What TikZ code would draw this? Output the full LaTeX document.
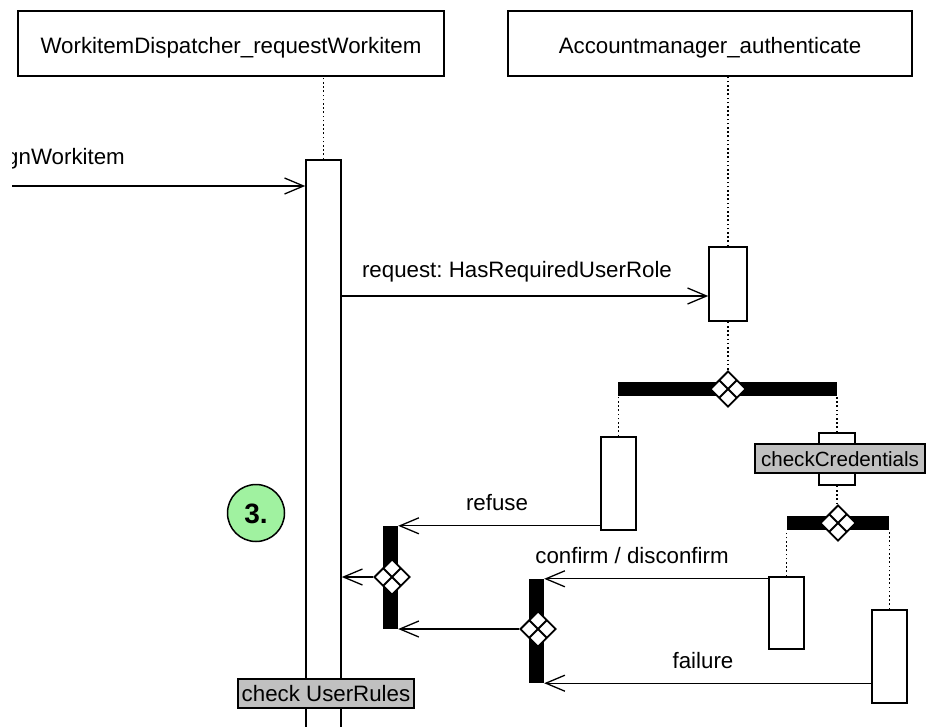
\documentclass[tikz,border=0pt]{standalone}
\usepackage{fontspec}
\setmainfont{Liberation Sans}
\usetikzlibrary{arrows.meta,shapes.geometric,calc}
\definecolor{noteGray}{RGB}{192,192,192}
\definecolor{stepGreen}{RGB}{160,242,160}
\frenchspacing

\begin{document}
\begin{tikzpicture}[x=1pt,y=-1pt,
  every node/.style={font=\fontsize{22.3}{26}\selectfont},
  head/.style={draw, line width=1.5pt, inner sep=0pt, minimum height=65pt,
               text height=20pt, text depth=0pt},
  act/.style={draw, fill=white, line width=1.6pt, inner sep=0pt},
  bar/.style={fill=black, inner sep=0pt},
  gate/.style={diamond, draw, fill=white, line width=1.9pt, inner sep=0pt,
    minimum width=36pt, minimum height=36pt,
    path picture={\draw[line width=1.9pt]
      ($(path picture bounding box.north)!0.5!(path picture bounding box.west)$) --
      ($(path picture bounding box.south)!0.5!(path picture bounding box.east)$)
      ($(path picture bounding box.north)!0.5!(path picture bounding box.east)$) --
      ($(path picture bounding box.south)!0.5!(path picture bounding box.west)$);}},
  life/.style={line width=1.7pt, dash pattern=on 1.6pt off 2.6pt},
  msg/.style={line width=1.3pt, -{Straight Barb[length=19pt,width=16pt,line width=1.3pt]}},
  note/.style={draw, fill=noteGray, line width=1.4pt, inner sep=0pt,
               minimum height=29pt, text height=15pt, text depth=0pt},
  lbl/.style={anchor=base, inner sep=0pt}
]
\useasboundingbox (0,0) rectangle (928,726);
\clip (12,0) rectangle (928,726);

% lifeline heads
\node[head, minimum width=426pt] (head1) at (231,43.5) {WorkitemDispatcher\_requestWorkitem};
\node[head, minimum width=404pt] (head2) at (710,43.5) {Accountmanager\_authenticate};

% activations
\node[act, minimum width=35pt, minimum height=600pt] (act1) at (323.5,460) {};
\node[act, minimum width=38pt, minimum height=74pt]  (act2) at (728,284) {};
\node[act, minimum width=35pt, minimum height=93pt]  (act3) at (618.5,483.5) {};
\node[act, minimum width=36pt, minimum height=52pt]  (act4) at (837,459) {};
\node[act, minimum width=35pt, minimum height=72pt]  (act5) at (786.5,613) {};
\node[act, minimum width=35pt, minimum height=93pt]  (act6) at (889.5,656.5) {};

% fork and join bars
\node[bar, minimum width=219pt, minimum height=14pt] (fork1) at (727.5,389) {};
\node[bar, minimum width=102pt, minimum height=14pt] (fork2) at (838,523) {};
\node[bar, minimum width=15pt, minimum height=103pt] (join1) at (390.5,577.5) {};
\node[bar, minimum width=15pt, minimum height=104pt] (join2) at (536.5,631) {};

% dotted lifelines
\draw[life] (act1.north) -- (act1.north |- head1.south);
\draw[life] (act2.north) -- (act2.north |- head2.south);
\draw[life] (act2.south) -- (act2.south |- fork1.north);
\draw[life] (act3.north) -- (act3.north |- fork1.south);
\draw[life] (act4.north) -- (act4.north |- fork1.south);
\draw[life] (act4.south) -- (act4.south |- fork2.north);
\draw[life] (act5.north) -- (act5.north |- fork2.south);
\draw[life] (act6.north) -- (act6.north |- fork2.south);

% branch gates
\node[gate] (g1) at (728,389) {};
\node[gate] (g2) at (838,523) {};
\node[gate] (g3) at (392,577) {};
\node[gate] (g4) at (538,629) {};

% messages
\coordinate (src) at (12,186);
\draw[msg] (src) -- (act1.west |- src);
\node[lbl, anchor=base east] at (125,164) {assignWorkitem};

\draw[msg] (act1.east |- 0,296) -- (act2.west |- 0,296);
\node[lbl] at (517,277) {request: HasRequiredUserRole};

\draw[msg] (act3.west |- join1.north east) -- (join1.north east);
\node[lbl] at (497,510) {refuse};

\draw[msg] (act5.west |- join2.north east) -- (join2.north east);
\node[lbl] at (632,563) {confirm / disconfirm};

\draw[msg] (act6.west |- join2.south east) -- (join2.south east);
\node[lbl] at (703,668) {failure};

\draw[msg] (g3.west) -- (act1.east |- g3.west);
\draw[msg] (g4.west) -- (join1.east |- g4.west);

% notes on activations
\node[note, minimum width=170pt, font=\fontsize{20.6}{24}\selectfont] (credNote) at (840,458.5) {checkCredentials};
\node[note, minimum width=176pt] (rulesNote) at (326,693.5) {check UserRules};

% step marker
\node[circle, draw, fill=stepGreen, line width=1.5pt, minimum size=57pt, inner sep=0pt,
      font=\fontsize{28}{30}\selectfont\bfseries, text height=20pt, text depth=0pt]
      (step3) at (256,513) {3.};
\end{tikzpicture}
\end{document}
